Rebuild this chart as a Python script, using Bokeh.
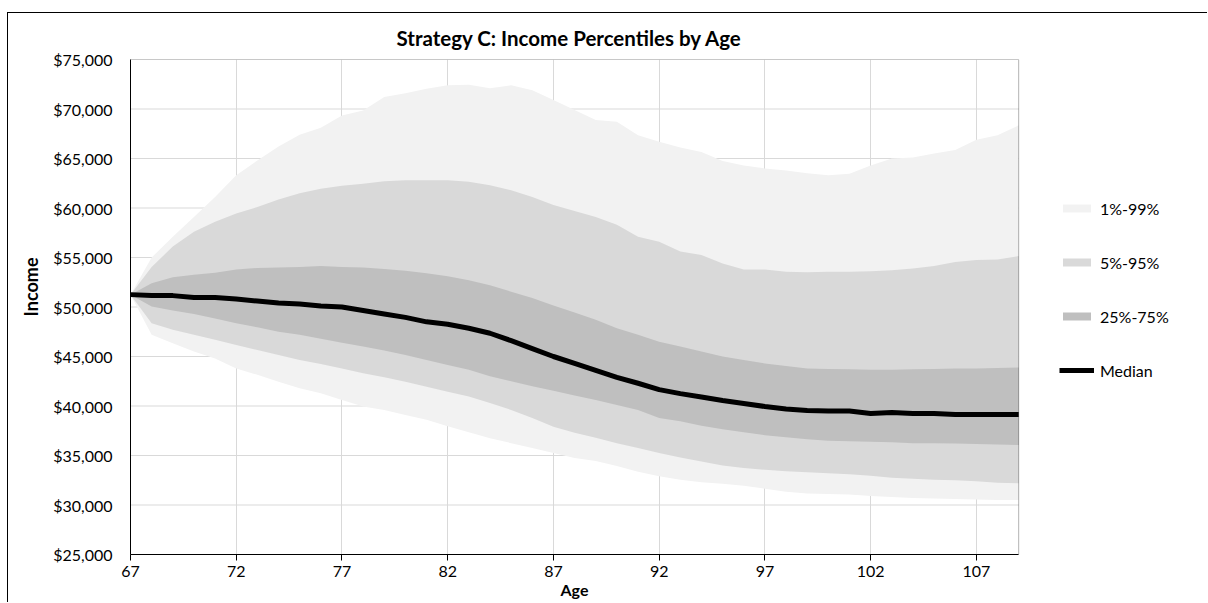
from bokeh.plotting import figure
from bokeh.models import (ColumnDataSource, FixedTicker, NumeralTickFormatter, Legend,
                          LegendItem, Title, Range1d, BoxAnnotation)
from bokeh.embed import file_html
from bokeh.resources import INLINE

# ---------------- data ----------------
ages = list(range(67, 110))

p99 = [51250, 55000, 57100, 59100, 61100, 63300, 64800, 66200, 67400, 68100,
       69350, 69850, 71200, 71600, 72050, 72400, 72450, 72100, 72400, 71900,
       70900, 69900, 68900, 68700, 67350, 66700, 66100, 65650, 64750, 64300,
       64000, 63800, 63500, 63300, 63450, 64300, 65000, 65100, 65500, 65850,
       66900, 67350, 68350]

p95 = [51250, 54050, 56100, 57600, 58600, 59450, 60100, 60850, 61500, 61950,
       62250, 62450, 62700, 62800, 62800, 62800, 62650, 62300, 61800, 61100,
       60300, 59700, 59100, 58300, 57100, 56600, 55600, 55250, 54400, 53800,
       53800, 53550, 53500, 53550, 53550, 53600, 53700, 53900, 54150, 54550,
       54750, 54800, 55150]

p75 = [51250, 52400, 53000, 53250, 53450, 53800, 53950, 54000, 54050, 54150,
       54050, 54000, 53850, 53650, 53400, 53100, 52700, 52200, 51550, 50900,
       50150, 49450, 48700, 47850, 47200, 46500, 46000, 45500, 45000, 44650,
       44300, 44050, 43800, 43750, 43700, 43650, 43650, 43700, 43750, 43800,
       43800, 43850, 43900]

median = [51250, 51150, 51150, 50950, 50950, 50800, 50600, 50400, 50300, 50100,
          50000, 49650, 49300, 48950, 48500, 48250, 47850, 47350, 46600, 45800,
          45000, 44300, 43600, 42900, 42300, 41650, 41250, 40900, 40550, 40250,
          39950, 39700, 39550, 39500, 39500, 39250, 39350, 39250, 39250, 39150,
          39150, 39150, 39150]

p25 = [51250, 50050, 49650, 49300, 48850, 48350, 47950, 47500, 47200, 46800,
       46400, 46000, 45600, 45150, 44650, 44150, 43650, 43000, 42500, 42000,
       41550, 41050, 40600, 40100, 39600, 38800, 38450, 38000, 37650, 37350,
       37050, 36850, 36650, 36500, 36450, 36400, 36350, 36250, 36250, 36200,
       36150, 36100, 36050]

p5 = [51250, 48350, 47700, 47200, 46700, 46150, 45650, 45150, 44650, 44250,
      43800, 43300, 42900, 42450, 41950, 41450, 40950, 40300, 39600, 38800,
      37900, 37300, 36800, 36250, 35750, 35250, 34800, 34400, 34000, 33750,
      33550, 33400, 33300, 33200, 33100, 32950, 32750, 32650, 32550, 32500,
      32400, 32250, 32200]

p1 = [51250, 47200, 46350, 45500, 44800, 43800, 43150, 42450, 41800, 41300,
      40600, 39950, 39600, 39100, 38600, 37950, 37350, 36750, 36250, 35750,
      35250, 34750, 34450, 33950, 33350, 32900, 32550, 32300, 32150, 31950,
      31650, 31350, 31150, 31100, 31050, 30900, 30800, 30700, 30650, 30600,
      30550, 30500, 30500]

x_ticks = [67, 72, 77, 82, 87, 92, 97, 102, 107]
y_ticks = [25000, 30000, 35000, 40000, 45000, 50000, 55000, 60000, 65000, 70000, 75000]
band_labels = ["1%-99%", "5%-95%", "25%-75%", "Median"]
title_text = "Strategy C: Income Percentiles by Age"
x_title = "Age"
y_title = "Income"

# ---------------- layout ----------------
FONT = "Lato"
FIG_W, FIG_H = 1200, 590
BORDER_L, BORDER_T, BORDER_B = 121, 46, 49
PLOT_W = 889                       # width of the plotted (bordered) area
FRAME_W = FIG_W - BORDER_L         # frame extends under the legend area
x0, x1 = ages[0], ages[-1]
y0, y1 = y_ticks[0], y_ticks[-1]
x_end = x1 + (x1 - x0) * (FRAME_W - PLOT_W) / PLOT_W

src = ColumnDataSource(dict(age=ages, p1=p1, p5=p5, p25=p25, p50=median,
                            p75=p75, p95=p95, p99=p99))
gsrc = ColumnDataSource(dict(xa=[x0] * len(y_ticks), xb=[x1] * len(y_ticks), y=y_ticks))

p = figure(width=FIG_W, height=FIG_H, output_backend="svg", toolbar_location=None,
           x_range=Range1d(x0, x_end), y_range=Range1d(y0, y1),
           min_border_left=BORDER_L, min_border_right=0, min_border_top=BORDER_T,
           min_border_bottom=BORDER_B)
p.margin = (12, 0, 0, 7)
p.styles = {"border-top": "1px solid black", "border-left": "1px solid black"}
p.background_fill_color = "white"
p.border_fill_color = "white"
p.outline_line_color = None

p.title.text = title_text
p.title.align = "left"
p.title.offset = 266
p.title.text_font = FONT
p.title.text_font_size = "20.5px"
p.title.text_font_style = "bold"
p.title.text_color = "black"
p.title.standoff = 20

# horizontal grid lines limited to the plot area
p.segment(x0="xa", y0="y", x1="xb", y1="y", source=gsrc, line_color="#d9d9d9",
          line_width=1, level="underlay")
p.ygrid.visible = False
p.xgrid.ticker = FixedTicker(ticks=x_ticks)
p.xgrid.grid_line_color = "#d9d9d9"

r99 = p.varea(x="age", y1="p1", y2="p99", source=src, fill_color="#f2f2f2")
r95 = p.varea(x="age", y1="p5", y2="p95", source=src, fill_color="#d9d9d9")
r75 = p.varea(x="age", y1="p25", y2="p75", source=src, fill_color="#bfbfbf")
rm = p.line(x="age", y="p50", source=src, line_color="black", line_width=5,
            line_join="round")

# plot-area border
p.add_layout(BoxAnnotation(left=x0, right=x1, bottom=y0, top=y1, fill_color=None,
                           fill_alpha=0, line_color="black", line_width=1))

# axes
xa = p.xaxis[0]
xa.bounds = (x0, x1)
xa.ticker = FixedTicker(ticks=x_ticks)
xa.major_label_text_font = FONT
xa.major_label_text_font_size = "16px"
xa.major_label_text_color = "black"
xa.major_label_standoff = 5
xa.major_tick_out = 6
xa.major_tick_in = 0
xa.minor_tick_out = 0
xa.minor_tick_in = 0
xa.axis_line_color = "black"
xa.major_tick_line_color = "black"

ya = p.yaxis[0]
ya.ticker = FixedTicker(ticks=y_ticks)
ya.formatter = NumeralTickFormatter(format="$0,0")
ya.major_label_text_font = FONT
ya.major_label_text_font_size = "16px"
ya.major_label_text_color = "black"
ya.major_label_standoff = 18
ya.major_tick_out = 0
ya.major_tick_in = 0
ya.minor_tick_out = 0
ya.minor_tick_in = 0
ya.axis_line_color = "black"

p.add_layout(Title(text=y_title, align="right", text_font=FONT,
                   text_font_size="18px", text_font_style="bold",
                   text_color="black", standoff=18, offset=198), "left")
p.add_layout(Title(text=x_title, align="left", text_font=FONT,
                   text_font_size="16px", text_font_style="bold",
                   text_color="black", standoff=0, offset=430,
                   vertical_align="top"), "below")

legend = Legend(items=[LegendItem(label=band_labels[0], renderers=[r99]),
                       LegendItem(label=band_labels[1], renderers=[r95]),
                       LegendItem(label=band_labels[2], renderers=[r75]),
                       LegendItem(label=band_labels[3], renderers=[rm])],
                location=(929, 174), orientation="vertical",
                glyph_width=35, glyph_height=10, label_height=20, spacing=34,
                padding=0, margin=0, border_line_color=None,
                background_fill_alpha=0, label_text_font=FONT,
                label_text_font_size="16px", label_standoff=6,
                label_text_color="black")
p.add_layout(legend, "center")

open("out.html", "w").write(file_html(p, INLINE))
